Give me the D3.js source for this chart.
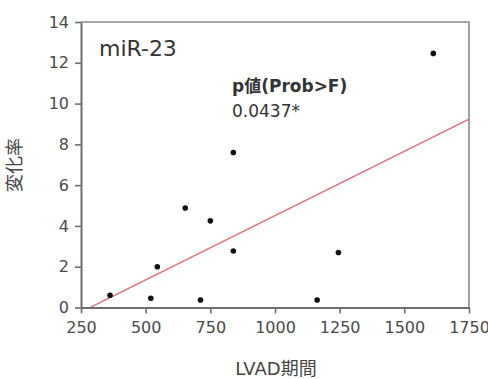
<!DOCTYPE html>
<html>
<head>
<meta charset="utf-8">
<script src="https://cdn.jsdelivr.net/npm/d3@7"></script>
<style>
  body { margin: 0; background: #fff; }
  svg { display: block; font-family: 'DejaVu Sans', 'Noto Sans CJK JP', sans-serif; }
</style>
</head>
<body>
<div id="chart"></div>
<script>
// LVAD duration (days) vs rate of change for miR-23
const lvadDays = [362, 520, 545, 653, 712, 750, 839, 839, 1163, 1245, 1612]
const changeRate = [0.6, 0.45, 2.0, 4.88, 0.37, 4.25, 2.77, 7.6, 0.37, 2.7, 12.46]
const xTicks = [250, 500, 750, 1000, 1250, 1500, 1750]
const yTicks = [0, 2, 4, 6, 8, 10, 12, 14]

const width = 488
const height = 379
const margin = { top: 22, right: 19, bottom: 71.5, left: 81 }
const innerWidth = width - margin.left - margin.right
const innerHeight = height - margin.top - margin.bottom

const points = lvadDays.map((d, i) => ({ x: d, y: changeRate[i] }))

// least squares fit
const mx = d3.mean(points, (d) => d.x)
const my = d3.mean(points, (d) => d.y)
const slope = d3.sum(points, (d) => (d.x - mx) * (d.y - my)) / d3.sum(points, (d) => (d.x - mx) ** 2)
const intercept = my - slope * mx

const svg = d3.select('#chart').append('svg').attr('width', width).attr('height', height)

const x = d3.scaleLinear().domain([250, 1750]).range([0, innerWidth])
const y = d3.scaleLinear().domain([0, 14]).range([innerHeight, 0])

const chart = svg.append('g').attr('transform', `translate(${margin.left},${margin.top})`)

chart.append('clipPath').attr('id', 'plot-clip')
  .append('rect').attr('width', innerWidth).attr('height', innerHeight)

// frame top & right
chart.append('path')
  .attr('d', `M0,0H${innerWidth}V${innerHeight}`)
  .attr('fill', 'none')
  .attr('stroke', '#8a8a8a')
  .attr('stroke-width', 1.6)

const fitLine = d3.line().x((d) => x(d)).y((d) => y(slope * d + intercept))
chart.append('path')
  .attr('clip-path', 'url(#plot-clip)')
  .attr('d', fitLine(x.domain()))
  .attr('fill', 'none')
  .attr('stroke', '#e2737e')
  .attr('stroke-width', 1.5)

chart.append('g')
  .selectAll('circle')
  .data(points)
  .join('circle')
  .attr('cx', (d) => x(d.x))
  .attr('cy', (d) => y(d.y))
  .attr('r', 2.8)
  .attr('fill', '#111')

const xAxis = chart.append('g')
  .attr('transform', `translate(0,${innerHeight})`)
  .call(d3.axisBottom(x).tickValues(xTicks).tickFormat(d3.format('d')).tickSize(6).tickPadding(8).tickSizeOuter(0))
const yAxis = chart.append('g')
  .call(d3.axisLeft(y).tickValues(yTicks).tickFormat(d3.format('d')).tickSize(6).tickPadding(6).tickSizeOuter(0))

for (const ax of [xAxis, yAxis]) {
  ax.select('.domain').attr('stroke', '#6e6e6e').attr('stroke-width', 2)
  ax.selectAll('.tick line').attr('stroke', '#6e6e6e').attr('stroke-width', 1.6)
  ax.selectAll('.tick text')
    .attr('fill', '#4a4a4a')
    .style('font-size', '16px')
    .style('font-family', "'DejaVu Sans', sans-serif")
}

chart.append('text')
  .attr('x', 18)
  .attr('y', 34)
  .attr('fill', '#333')
  .style('font-size', '22px')
  .text('miR-23')

chart.append('text')
  .attr('x', 151)
  .attr('y', 69.5)
  .attr('fill', '#333')
  .style('font-size', '17px')
  .style('font-weight', 'bold')
  .text('p値(Prob>F)')

chart.append('text')
  .attr('x', 151)
  .attr('y', 94.5)
  .attr('fill', '#333')
  .style('font-size', '17px')
  .text('0.0437*')

svg.append('text')
  .attr('x', margin.left + innerWidth / 2 + 1)
  .attr('y', 375)
  .attr('text-anchor', 'middle')
  .attr('fill', '#444')
  .style('font-size', '18px')
  .text('LVAD期間')

svg.append('text')
  .attr('transform', 'translate(21,165) rotate(-90)')
  .attr('text-anchor', 'middle')
  .attr('fill', '#444')
  .style('font-size', '18px')
  .text('変化率')
</script>
</body>
</html>
